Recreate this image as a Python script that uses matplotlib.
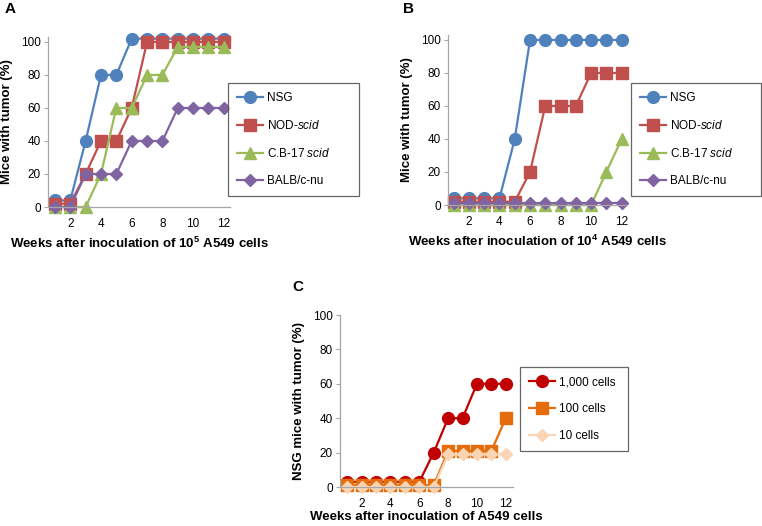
import numpy as np
import matplotlib
matplotlib.use('Agg')
import matplotlib.pyplot as plt

plt.rcParams['font.family'] = ['Liberation Sans', 'DejaVu Sans']
plt.rcParams['mathtext.fontset'] = 'custom'
plt.rcParams['mathtext.rm'] = 'Liberation Sans'
plt.rcParams['mathtext.it'] = 'Liberation Sans:italic'
plt.rcParams['mathtext.bf'] = 'Liberation Sans:bold'

# Data
weeks = list(range(1, 13))

strains = ['NSG', 'NOD-$\\it{scid}$', 'C.B-17 $\\it{scid}$', 'BALB/c-nu']

# Panel A: 10^5 cells
a_nsg = [4, 4, 40, 80, 80, 102, 102, 102, 102, 102, 102, 102]
a_nod = [2, 2, 20, 40, 40, 60, 100, 100, 100, 100, 100, 100]
a_cb17 = [0, 0, 0, 20, 60, 60, 80, 80, 97, 97, 97, 97]
a_balb = [0, 0, 20, 20, 20, 40, 40, 40, 60, 60, 60, 60]

# Panel B: 10^4 cells
b_nsg = [4, 4, 4, 4, 40, 100, 100, 100, 100, 100, 100, 100]
b_nod = [2, 2, 2, 2, 2, 20, 60, 60, 60, 80, 80, 80]
b_cb17 = [0, 0, 0, 0, 0, 0, 0, 0, 0, 0, 20, 40]
b_balb = [1, 1, 1, 1, 1, 1, 1, 1, 1, 1, 1, 1]

# Panel C: NSG mice, low cell numbers
doses = ['1,000 cells', '100 cells', '10 cells']
c_1000 = [3, 3, 3, 3, 3, 3, 20, 40, 40, 60, 60, 60]
c_100 = [1, 1, 1, 1, 1, 1, 1, 21, 21, 21, 21, 40]
c_10 = [0, 0, 0, 0, 0, 0, 0, 19, 19, 19, 19, 19]

strain_colors = ['#4F81BD', '#C0504D', '#9BBB59', '#8064A2']
strain_markers = [('o', 8.5), ('s', 8), ('^', 9), ('D', 6.5)]
dose_colors = ['#C00000', '#E46C0A', '#FBD4B4']
dose_markers = [('o', 8.5), ('s', 8), ('D', 6.5)]

W, H = 762, 526
fig = plt.figure(figsize=(W / 100, H / 100), dpi=100)


def box(x0, y0, x1, y1):
    # pixel box -> figure fraction [left, bottom, width, height]
    return [x0 / W, 1 - y1 / H, (x1 - x0) / W, (y1 - y0) / H]


def style_axes(ax, xlim, ylim, ylabel, xlabel, xpad=4):
    ax.set_xlim(*xlim)
    ax.set_ylim(*ylim)
    ax.set_xticks([2, 4, 6, 8, 10, 12])
    ax.set_yticks([0, 20, 40, 60, 80, 100])
    for s in ['top', 'right']:
        ax.spines[s].set_visible(False)
    for s in ['left', 'bottom']:
        ax.spines[s].set_color('#A6A6A6')
        ax.spines[s].set_linewidth(0.9)
    ax.tick_params(axis='y', length=3, color='#A6A6A6', labelsize=8.5, pad=2)
    ax.tick_params(axis='x', length=0, labelsize=8.5, pad=8)
    ax.set_ylabel(ylabel, fontsize=9.5, fontweight='bold', labelpad=6)
    ax.set_xlabel(xlabel, fontsize=9.5, fontweight='bold', labelpad=xpad)


def add_legend(ax, px, spacing=1.25):
    x0, y0, x1, y1 = px
    leg = ax.legend(loc='upper left', mode='expand',
                    bbox_to_anchor=(x0 / W, 1 - y1 / H, (x1 - x0) / W, (y1 - y0) / H),
                    bbox_transform=fig.transFigure, fancybox=False,
                    edgecolor='#404040', fontsize=8.5, handlelength=2.2,
                    labelspacing=spacing, borderpad=0.8, handletextpad=0.3,
                    borderaxespad=0)
    leg.get_frame().set_linewidth(0.9)
    return leg


# Panel A
axA = fig.add_axes(box(48, 37, 230, 207))
for vals, lab, c, (m, ms) in zip([a_nsg, a_nod, a_cb17, a_balb], strains,
                                  strain_colors, strain_markers):
    axA.plot(weeks, vals, color=c, marker=m, markersize=ms, lw=1.6,
             label=lab, clip_on=False)
style_axes(axA, (0.55, 12.4), (0, 103), 'Mice with tumor (%)',
           'Weeks after inoculation of 10$^{\\mathbf{5}}$ A549 cells')
add_legend(axA, (228, 83, 359, 191))
fig.text(5 / W, 1 - 9 / H, 'A', fontsize=11, fontweight='bold', va='center')

# Panel B
axB = fig.add_axes(box(448, 35, 627, 205))
for vals, lab, c, (m, ms) in zip([b_nsg, b_nod, b_cb17, b_balb], strains,
                                  strain_colors, strain_markers):
    axB.plot(weeks, vals, color=c, marker=m, markersize=ms, lw=1.6,
             label=lab, clip_on=False)
style_axes(axB, (0.63, 12.35), (0, 103), 'Mice with tumor (%)',
           'Weeks after inoculation of 10$^{\\mathbf{4}}$ A549 cells')
add_legend(axB, (631, 83, 761, 189))
fig.text(403 / W, 1 - 9 / H, 'B', fontsize=11, fontweight='bold', va='center')

# Panel C
axC = fig.add_axes(box(340, 315, 513, 487))
for vals, lab, c, (m, ms) in zip([c_1000, c_100, c_10], doses,
                                  dose_colors, dose_markers):
    axC.plot(weeks, vals, color=c, marker=m, markersize=ms, lw=1.6,
             label=lab, clip_on=False)
style_axes(axC, (0.5, 12.5), (0, 100), 'NSG mice with tumor (%)',
           'Weeks after inoculation of A549 cells', xpad=1)
add_legend(axC, (520, 367, 628, 447))
fig.text(292 / W, 1 - 287 / H, 'C', fontsize=11, fontweight='bold', va='center')

fig.savefig('out.png', dpi=100)
